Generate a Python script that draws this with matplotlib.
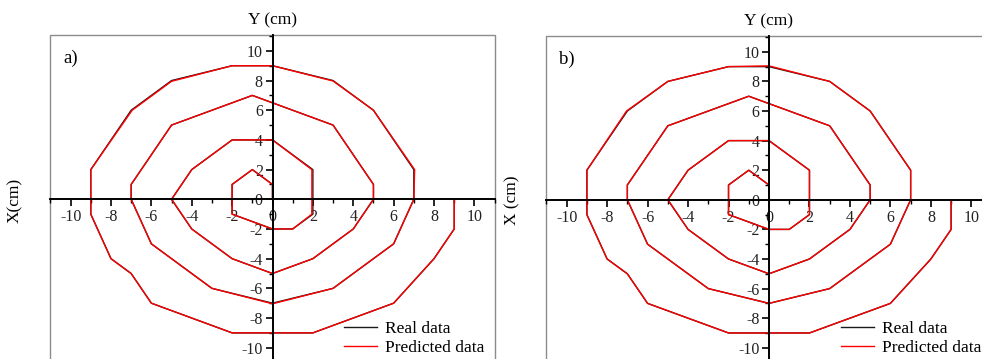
import matplotlib
matplotlib.use('Agg')
import matplotlib.pyplot as plt
import numpy as np
from matplotlib.patches import Rectangle
from matplotlib.ticker import MultipleLocator

plt.rcParams['font.family'] = ['Liberation Serif', 'DejaVu Serif']
plt.rcParams['axes.unicode_minus'] = False

# spiral path, horizontal / vertical coordinates (cm)
real_h = [0, 0, -1, -2, -2, 0, 1, 2, 2, 0, -2, -4, -5, -4, -2, 0, 2, 4, 5, 5, 3, 0, -1, -5, -7, -7,
          -6, -3, 0, 3, 6, 7, 7, 5, 3, 0, -2, -5, -7, -9, -9, -8, -7, -6, -2, 2, 6, 8, 9, 9]
real_v = [0, 1, 2, 1, -1, -2, -2, -1, 2, 4, 4, 2, 0, -2, -4, -5, -4, -2, 0, 1, 5, 6.5, 7, 5, 1, 0,
          -3, -6, -7, -6, -3, 0, 2, 6, 8, 9, 9, 8, 6, 2, -1, -4, -5, -7, -9, -9, -7, -4, -2, 0]

pred_a_h = [0, 0, -1, -2, -2, 0, 1, 1.95, 1.95, 0, -2, -4, -5, -4, -2, 0, 2, 4, 5, 5, 3, 0, -1, -5, -7, -7,
            -6, -3, 0, 3, 6, 7, 7.04, 5, 3, 0, -2, -5, -6.95, -9, -9, -8, -7, -6, -2, 2, 6, 8, 9, 9]
pred_a_v = [0, 1, 2, 1, -1, -2, -2, -1, 2, 4, 4, 2, 0, -2, -4, -5, -4, -2, 0, 1, 5, 6.5, 7, 5, 1, 0,
            -3, -6, -7.04, -6, -3, 0, 2, 6, 7.97, 9, 9, 7.95, 6, 2, -1, -4, -5, -7, -9, -9, -7, -4, -2, 0]

pred_b_h = [0, 0, -1, -2, -2, 0, 1, 2, 2, 0, -2, -4, -5, -4, -2, 0, 2, 4, 5, 5, 3, 0, -1, -5, -7, -7,
            -6, -3, 0, 3, 6, 7, 7, 5, 3, 0, -2, -5, -7.04, -9, -9, -8, -7, -6, -2, 2, 6, 8, 9, 9]
pred_b_v = [0, 1, 2, 1, -1, -2, -2, -1, 2, 4, 4, 2, 0, -2, -4, -5, -4, -2, 0, 1, 5, 6.5, 7, 5, 1, 0,
            -3, -6, -7, -6, -3, 0, 2, 6, 8, 9.05, 9, 8, 6, 2, -1, -4, -5, -7, -9, -9, -7, -4, -2, 0]

ticks = [-10, -8, -6, -4, -2, 0, 2, 4, 6, 8, 10]

fig = plt.figure(figsize=(9.82, 3.59), dpi=100)
ax1 = fig.add_axes([50/982, -4.6/359, 445/982, 328.6/359])
ax2 = fig.add_axes([546/982, -4.6/359, 446/982, 327.6/359])

panels = [(ax1, pred_a_h, pred_a_v, 'a)', 'X(cm)', 15), (ax2, pred_b_h, pred_b_v, 'b)', 'X (cm)', 512)]
for ax, ph, pv, tag, xlab, xlab_px in panels:
    ax.plot(real_h, real_v, color='#1a1a1a', lw=1.0, label='Real data')
    ax.plot(ph, pv, color='#ff0000', lw=1.0, label='Predicted data')
    ax.set_xlim(-11.02, 11.02)
    ax.set_ylim(-11.07, 11.07)
    for s in ['top', 'right']:
        ax.spines[s].set_visible(False)
    ax.spines['left'].set_position('zero')
    ax.spines['bottom'].set_position('zero')
    ax.spines['left'].set_linewidth(1.4)
    ax.spines['bottom'].set_linewidth(1.4)
    ax.add_patch(Rectangle((0, 0), 1, 1, transform=ax.transAxes, fill=False,
                           edgecolor='#8c8c8c', lw=1.0, clip_on=False))
    ax.set_xticks(ticks)
    ax.set_yticks(ticks)
    ax.xaxis.set_minor_locator(MultipleLocator(1))
    ax.yaxis.set_minor_locator(MultipleLocator(1))
    ax.tick_params(which='major', direction='out', length=5, width=1.2, labelsize=11.5, pad=2,
                   labelcolor='#222222')
    ax.tick_params(which='minor', direction='out', length=3, width=1.0)
    ax.text(0.03, 0.93, tag, transform=ax.transAxes, fontsize=13.5, va='center')
    ax.text(0.5, 1.045, 'Y (cm)', transform=ax.transAxes, fontsize=12.5, ha='center', va='center')
    fig.text(xlab_px/982, 1 - 200/359, xlab, rotation=90, fontsize=12.5, ha='center', va='center')
    ax.legend(loc='lower right', bbox_to_anchor=(1.0, -0.008), frameon=False, fontsize=12.5,
              handlelength=1.9, handletextpad=0.45, labelspacing=0.15, borderaxespad=0.2)

fig.savefig('out.png', dpi=100)
